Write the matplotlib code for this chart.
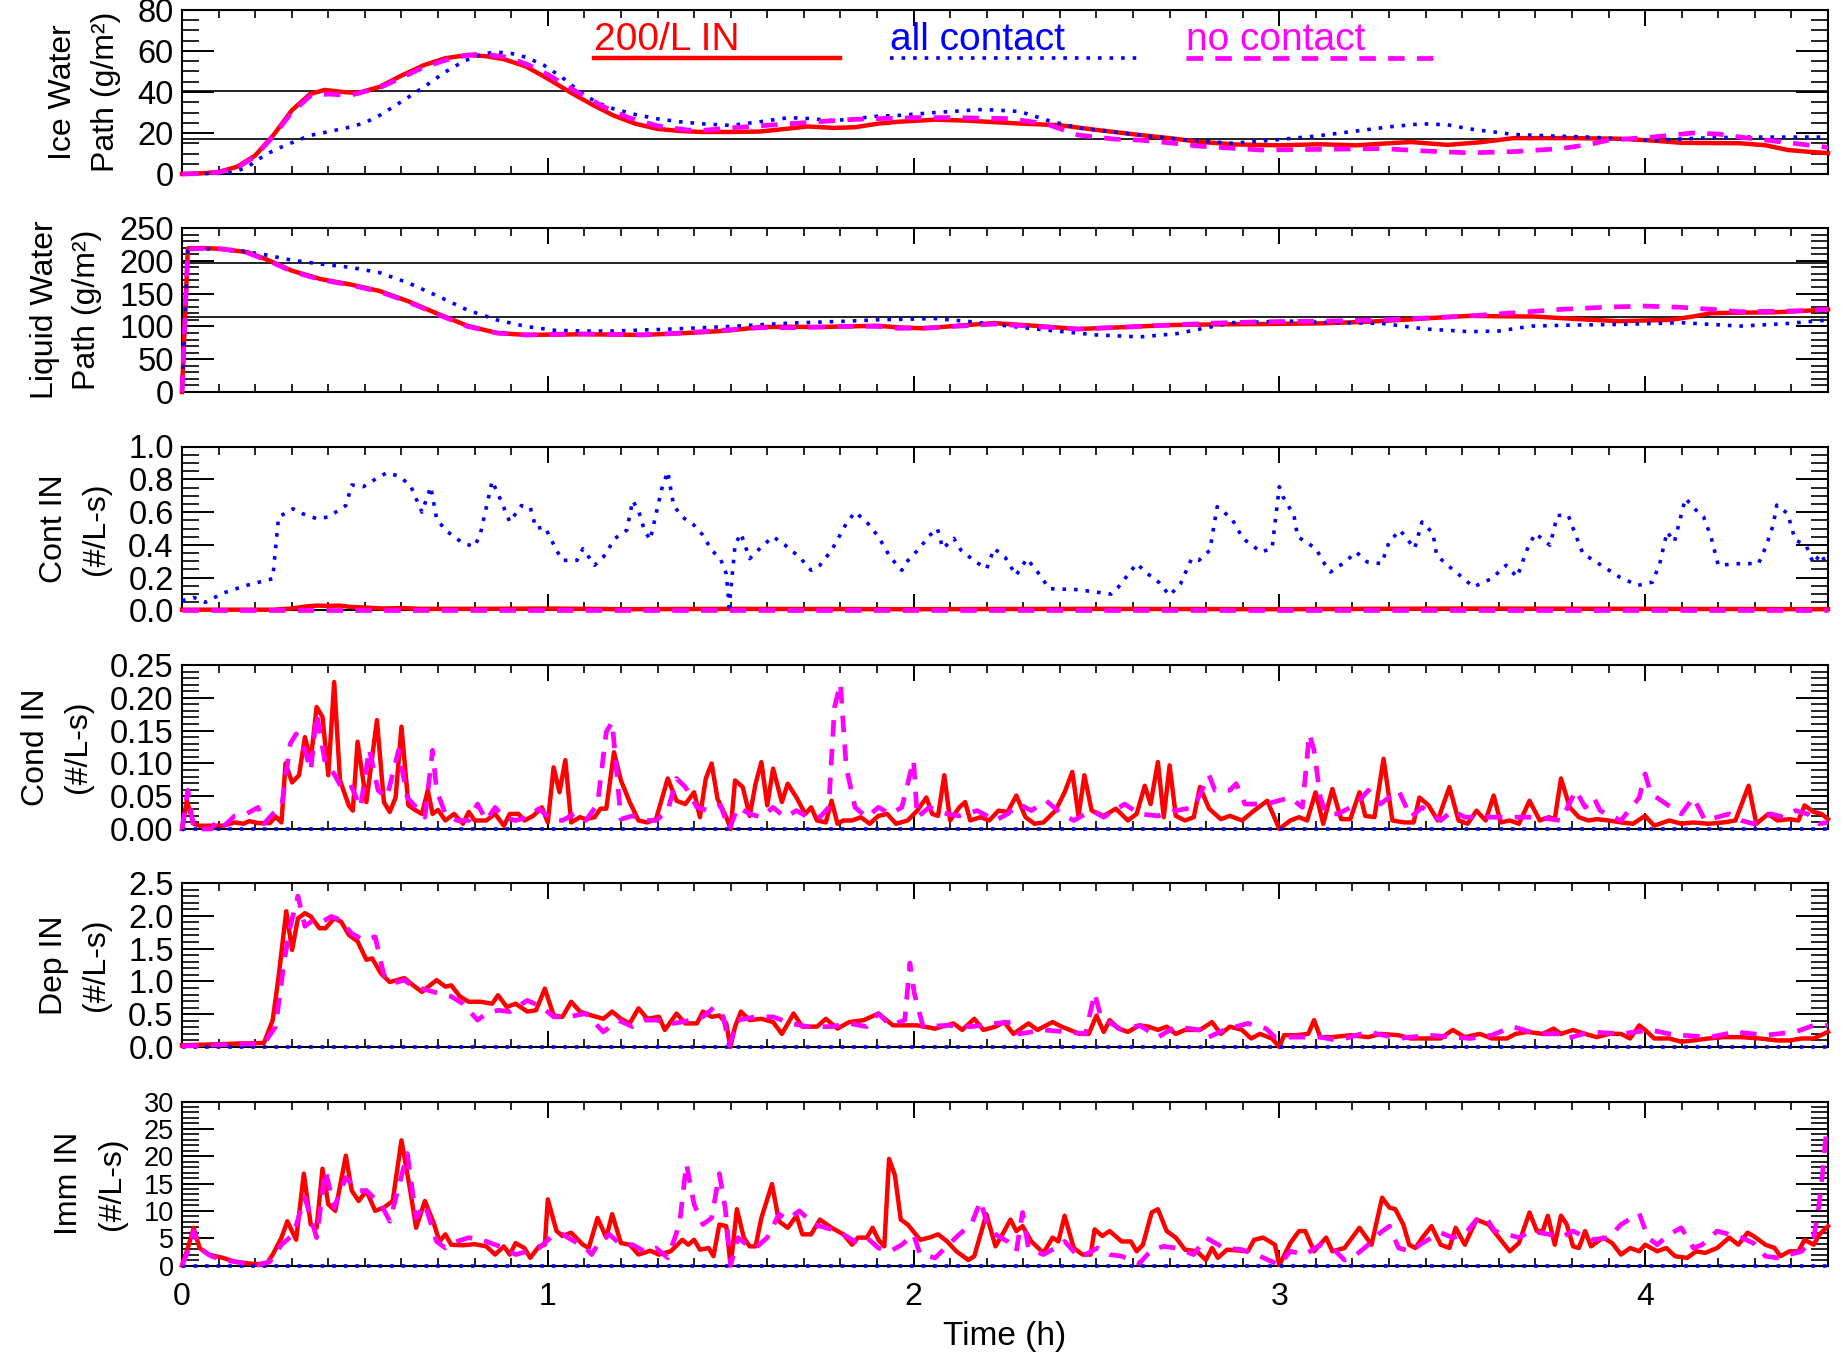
import matplotlib
matplotlib.use("Agg")
import matplotlib.pyplot as plt
from matplotlib.ticker import MultipleLocator, FormatStrFormatter

plt.rcParams['font.family'] = ['Liberation Sans', 'DejaVu Sans']

# ---------------- data ----------------
series_names = ["200/L IN", "all contact", "no contact"]

# Ice water path (g/m2)
iwp_red_t = [0, 0.05, 0.1, 0.15, 0.2, 0.25, 0.3, 0.35, 0.39, 0.44, 0.48, 0.54, 0.6, 0.66, 0.72, 0.78, 0.83, 0.88,
             0.94, 1.0, 1.06, 1.12, 1.18, 1.24, 1.3, 1.36, 1.42, 1.5, 1.58, 1.65, 1.71, 1.78, 1.84, 1.9, 1.96,
             2.06, 2.15, 2.29, 2.4, 2.5, 2.62, 2.7, 2.78, 2.88, 3.0, 3.11, 3.21, 3.3, 3.36, 3.46, 3.55, 3.64,
             3.8, 3.93, 4.02, 4.1, 4.26, 4.33, 4.39, 4.45, 4.5]
iwp_red = [0, 0.3, 1, 3.5, 9, 19, 31, 39, 41, 40, 39.5, 42.5, 48, 53, 56.5, 58, 57.5, 56, 52.5, 46.5, 40, 34, 28.5,
           24.5, 22, 21, 20.5, 20.5, 20.7, 22, 23.2, 22.5, 22.8, 24.5, 25.5, 26.5, 26, 24.6, 23.8, 21.5, 19,
           17.5, 15.7, 14.4, 14, 14.5, 14, 15, 15.6, 14.2, 15.5, 17.5, 17.5, 17.2, 16.3, 15.2, 15, 14, 11.7,
           10.8, 10.2]
iwp_blue_t = [0, 0.1, 0.14, 0.18, 0.21, 0.24, 0.27, 0.31, 0.35, 0.41, 0.46, 0.5, 0.54, 0.58, 0.62, 0.67, 0.72,
              0.77, 0.82, 0.86, 0.9, 0.94, 0.99, 1.04, 1.1, 1.14, 1.18, 1.24, 1.3, 1.36, 1.42, 1.5, 1.58, 1.66,
              1.72, 1.78, 1.84, 1.9, 1.96, 2.06, 2.19, 2.29, 2.37, 2.45, 2.62, 2.75, 2.87, 2.98, 3.1, 3.19, 3.3,
              3.39, 3.46, 3.52, 3.64, 3.75, 3.85, 3.95, 4.02, 4.15, 4.26, 4.4, 4.5]
iwp_blue = [0, 0.3, 0.8, 3.5, 7.3, 10.5, 13, 16, 18.8, 21, 22.9, 25, 28.6, 33, 37.6, 43.5, 49.8, 55, 58.5, 59.5,
            58.8, 57, 53, 47, 38.4, 34.5, 31.8, 29, 26.9, 25.5, 24.5, 23.7, 25.5, 27.5, 27, 26, 27, 28.2, 28.6,
            30, 31.5, 30.5, 26, 22.5, 19, 16.5, 15, 16.5, 18.5, 20.5, 23, 24.5, 24, 22, 19.3, 18.5, 18, 17, 16.4,
            17.5, 18, 18, 18]
iwp_mag_t = [0, 0.05, 0.1, 0.15, 0.2, 0.25, 0.3, 0.35, 0.4, 0.46, 0.54, 0.6, 0.66, 0.72, 0.78, 0.82, 0.89, 0.95,
             1.0, 1.08, 1.15, 1.22, 1.3, 1.38, 1.42, 1.5, 1.58, 1.66, 1.74, 1.82, 1.9, 2.01, 2.1, 2.26, 2.36,
             2.45, 2.55, 2.62, 2.7, 2.78, 2.95, 3.1, 3.28, 3.4, 3.52, 3.65, 3.77, 3.85, 3.9, 4.02, 4.13, 4.2,
             4.26, 4.38, 4.5]
iwp_mag = [0, 0.2, 0.8, 3, 8.5, 18.5, 30, 38, 39, 38.4, 42, 47, 52, 55.5, 58, 58.5, 57, 53, 48.5, 40, 33, 27.5,
           23.5, 21.5, 21.2, 22.5, 23.5, 24.5, 25.5, 26.5, 27, 27.5, 27.5, 27, 24.6, 19, 17, 16.5, 15.2, 13.6,
           11.7, 12, 12.4, 11.2, 10.3, 11, 12.4, 14.5, 16.5, 18, 20, 19.5, 18, 15.5, 13]
iwp_refs = [40.5, 17]

# Liquid water path (g/m2)
lwp_red_t = [0, 0.016, 0.06, 0.11, 0.18, 0.24, 0.3, 0.38, 0.46, 0.54, 0.62, 0.7, 0.78, 0.86, 0.94, 1.02, 1.1,
             1.18, 1.26, 1.34, 1.42, 1.5, 1.58, 1.66, 1.74, 1.82, 1.9, 1.96, 2.03, 2.12, 2.22, 2.33, 2.45, 2.58,
             2.7, 2.82, 2.95, 3.11, 3.24, 3.36, 3.45, 3.52, 3.6, 3.7, 3.82, 3.93, 4.07, 4.13, 4.18, 4.26, 4.35,
             4.43, 4.5]
lwp_red = [0, 219, 219.5, 218, 213, 200, 185, 172, 164, 154, 138, 119, 101, 90, 87, 87.5, 88, 87.5, 87, 89, 91,
           94, 99, 99.5, 99, 100, 101, 98.5, 97, 101, 105, 101, 96, 99, 102, 103, 103.6, 104.6, 107, 110.7, 114,
           116, 115.5, 115, 111, 108, 110, 115, 120, 121, 121.4, 123.5, 126]
lwp_blue_t = [0, 0.016, 0.08, 0.14, 0.22, 0.3, 0.38, 0.46, 0.54, 0.62, 0.7, 0.78, 0.86, 0.94, 1.02, 1.1, 1.18,
              1.26, 1.34, 1.42, 1.5, 1.58, 1.66, 1.74, 1.82, 1.9, 1.96, 2.06, 2.16, 2.3, 2.37, 2.5, 2.62, 2.72,
              2.82, 2.87, 3.03, 3.13, 3.28, 3.4, 3.52, 3.6, 3.69, 3.8, 3.93, 4.1, 4.26, 4.38, 4.5]
lwp_blue = [0, 218, 218, 217, 210, 201, 195, 190, 182, 166, 146, 125, 110, 100, 94, 93, 93, 94.5, 96, 98, 100,
            102.5, 105, 106.5, 108, 110, 110.7, 112, 107, 98, 94, 87, 84, 89, 100, 105.6, 108, 106, 104.6, 96,
            92, 93, 100.5, 102, 103, 105.6, 100.5, 104, 109.7]
lwp_mag_t = [0, 0.016, 0.06, 0.11, 0.18, 0.24, 0.3, 0.38, 0.46, 0.54, 0.62, 0.7, 0.78, 0.86, 0.94, 1.02, 1.1,
             1.18, 1.26, 1.34, 1.42, 1.5, 1.58, 1.66, 1.74, 1.82, 1.9, 1.96, 2.05, 2.22, 2.33, 2.45, 2.58, 2.7,
             2.82, 2.95, 3.11, 3.28, 3.45, 3.52, 3.65, 3.77, 3.9, 4.0, 4.1, 4.18, 4.26, 4.4, 4.5]
lwp_mag = [0, 218, 219, 218, 212, 199, 184, 171, 163, 153, 137, 118, 100, 90, 87, 88, 88.5, 88, 87, 89, 92, 95,
           98, 98, 99, 100, 100, 97, 98, 103.6, 100, 96, 99, 102, 105, 107, 108, 110, 114, 116, 121, 126, 129.5,
           131, 129, 126, 122.4, 123.5, 126]
lwp_refs = [196, 114]

# Contact IN rate (#/L-s)
cont_blue_t = [0, 0.032, 0.064, 0.112, 0.176, 0.248, 0.264, 0.304, 0.33, 0.368, 0.40, 0.448, 0.464, 0.496,
               0.528, 0.56, 0.592, 0.624, 0.656, 0.68, 0.696, 0.72, 0.768, 0.80, 0.816, 0.848, 0.872, 0.896,
               0.928, 0.952, 0.968, 0.992, 1.024, 1.04, 1.08, 1.096, 1.128, 1.152, 1.184, 1.216, 1.232, 1.248,
               1.264, 1.28, 1.296, 1.312, 1.328, 1.344, 1.368, 1.40, 1.424, 1.448, 1.472, 1.488, 1.496, 1.512,
               1.528, 1.552, 1.584, 1.616, 1.648, 1.688, 1.72, 1.744, 1.776, 1.816, 1.84, 1.872, 1.904, 1.936,
               1.968, 1.985, 2.02, 2.04, 2.065, 2.08, 2.11, 2.13, 2.17, 2.20, 2.22, 2.25, 2.28, 2.31, 2.35, 2.37,
               2.45, 2.54, 2.56, 2.61, 2.64, 2.67, 2.70, 2.73, 2.76, 2.78, 2.81, 2.83, 2.87, 2.90, 2.95, 2.98,
               3.0, 3.01, 3.04, 3.05, 3.10, 3.12, 3.14, 3.18, 3.21, 3.24, 3.28, 3.30, 3.33, 3.37, 3.39, 3.42,
               3.43, 3.46, 3.51, 3.53, 3.58, 3.62, 3.65, 3.68, 3.70, 3.74, 3.76, 3.79, 3.81, 3.83, 3.88, 3.93,
               3.98, 4.02, 4.04, 4.06, 4.08, 4.11, 4.14, 4.16, 4.18, 4.20, 4.26, 4.31, 4.33, 4.35, 4.36, 4.39,
               4.41, 4.44, 4.46, 4.48, 4.5]
cont_blue = [0.06, 0.08, 0.05, 0.106, 0.153, 0.194, 0.57, 0.62, 0.59, 0.56, 0.57, 0.64, 0.765, 0.755, 0.80,
             0.84, 0.82, 0.765, 0.60, 0.755, 0.56, 0.49, 0.41, 0.39, 0.47, 0.79, 0.67, 0.54, 0.64, 0.63, 0.50,
             0.51, 0.367, 0.306, 0.306, 0.377, 0.276, 0.326, 0.44, 0.49, 0.67, 0.61, 0.49, 0.43, 0.59, 0.745,
             0.847, 0.64, 0.57, 0.52, 0.46, 0.367, 0.316, 0.224, 0.02, 0.40, 0.47, 0.316, 0.388, 0.45, 0.40,
             0.326, 0.245, 0.276, 0.367, 0.53, 0.60, 0.54, 0.45, 0.326, 0.245, 0.306, 0.388, 0.45, 0.50, 0.378,
             0.44, 0.367, 0.296, 0.255, 0.378, 0.326, 0.214, 0.316, 0.204, 0.133, 0.127, 0.10, 0.143, 0.286,
             0.224, 0.173, 0.092, 0.163, 0.316, 0.306, 0.367, 0.633, 0.56, 0.44, 0.357, 0.378, 0.755, 0.694,
             0.58, 0.45, 0.378, 0.296, 0.235, 0.296, 0.357, 0.296, 0.286, 0.418, 0.49, 0.378, 0.54, 0.47, 0.337,
             0.276, 0.184, 0.143, 0.194, 0.276, 0.204, 0.388, 0.47, 0.398, 0.58, 0.58, 0.46, 0.347, 0.276,
             0.204, 0.153, 0.173, 0.286, 0.48, 0.418, 0.684, 0.61, 0.57, 0.45, 0.276, 0.286, 0.286, 0.388, 0.52,
             0.643, 0.59, 0.43, 0.398, 0.286, 0.347, 0.265]
cont_red_t = [0, 0.25, 0.3, 0.34, 0.37, 0.4, 0.43, 0.46, 0.5, 0.55, 0.6, 0.65, 0.8, 1.0, 1.2, 1.5, 2.0, 2.5, 3.0,
              3.5, 4.0, 4.5]
cont_red = [0.005, 0.005, 0.012, 0.025, 0.03, 0.028, 0.03, 0.022, 0.018, 0.012, 0.015, 0.01, 0.01, 0.012, 0.008,
            0.01, 0.008, 0.01, 0.008, 0.012, 0.01, 0.008]
cont_mag_t = [0, 4.5]
cont_mag = [0, 0]

# Condensation IN rate (#/L-s)
cond_red_t = [0, 0.013, 0.032, 0.048, 0.112, 0.144, 0.168, 0.184, 0.208, 0.24, 0.256, 0.272, 0.283, 0.301, 0.32,
              0.336, 0.352, 0.368, 0.384, 0.40, 0.416, 0.432, 0.456, 0.467, 0.48, 0.504, 0.533, 0.552, 0.568,
              0.584, 0.60, 0.619, 0.64, 0.656, 0.672, 0.685, 0.70, 0.72, 0.744, 0.768, 0.784, 0.80, 0.832, 0.856,
              0.88, 0.896, 0.92, 0.936, 0.96, 0.984, 1.0, 1.016, 1.032, 1.048, 1.064, 1.088, 1.104, 1.128, 1.144,
              1.16, 1.181, 1.20, 1.224, 1.248, 1.272, 1.296, 1.328, 1.352, 1.376, 1.40, 1.416, 1.432, 1.448,
              1.464, 1.488, 1.50, 1.512, 1.533, 1.552, 1.568, 1.584, 1.60, 1.616, 1.64, 1.656, 1.68, 1.704, 1.72,
              1.736, 1.76, 1.776, 1.792, 1.808, 1.832, 1.856, 1.88, 1.904, 1.928, 1.952, 1.984, 2.01, 2.035,
              2.051, 2.067, 2.084, 2.10, 2.125, 2.141, 2.155, 2.183, 2.207, 2.232, 2.257, 2.281, 2.306, 2.331,
              2.355, 2.388, 2.413, 2.434, 2.451, 2.467, 2.487, 2.52, 2.553, 2.586, 2.61, 2.632, 2.648, 2.668,
              2.684, 2.70, 2.717, 2.742, 2.766, 2.783, 2.808, 2.84, 2.865, 2.898, 2.931, 2.967, 3.0, 3.03, 3.054,
              3.076, 3.099, 3.12, 3.145, 3.169, 3.194, 3.219, 3.235, 3.26, 3.285, 3.309, 3.342, 3.367, 3.383,
              3.408, 3.433, 3.465, 3.49, 3.515, 3.539, 3.564, 3.586, 3.605, 3.63, 3.655, 3.684, 3.712, 3.737,
              3.753, 3.77, 3.794, 3.819, 3.844, 3.868, 3.901, 3.934, 3.967, 4.0, 4.025, 4.066, 4.099, 4.132,
              4.173, 4.214, 4.247, 4.283, 4.304, 4.337, 4.362, 4.395, 4.419, 4.436, 4.461, 4.482, 4.5]
cond_red = [0, 0.043, 0.008, 0.005, 0.005, 0.010, 0.008, 0.012, 0.009, 0.009, 0.019, 0.010, 0.100, 0.071, 0.082,
            0.140, 0.105, 0.186, 0.171, 0.082, 0.224, 0.074, 0.036, 0.028, 0.133, 0.041, 0.166, 0.041, 0.026,
            0.048, 0.156, 0.036, 0.028, 0.023, 0.059, 0.023, 0.029, 0.013, 0.023, 0.008, 0.026, 0.013, 0.013,
            0.023, 0.005, 0.023, 0.023, 0.013, 0.020, 0.033, 0.010, 0.094, 0.056, 0.105, 0.010, 0.018, 0.015,
            0.018, 0.031, 0.031, 0.117, 0.074, 0.041, 0.013, 0.010, 0.015, 0.077, 0.043, 0.038, 0.056, 0.018,
            0.077, 0.100, 0.046, 0.018, 0.0, 0.074, 0.064, 0.020, 0.069, 0.102, 0.036, 0.092, 0.041, 0.069,
            0.048, 0.023, 0.033, 0.013, 0.010, 0.043, 0.008, 0.013, 0.013, 0.018, 0.008, 0.020, 0.023, 0.008,
            0.013, 0.028, 0.048, 0.023, 0.020, 0.082, 0.013, 0.033, 0.041, 0.013, 0.018, 0.013, 0.028, 0.026,
            0.051, 0.018, 0.008, 0.010, 0.028, 0.056, 0.087, 0.020, 0.082, 0.028, 0.020, 0.031, 0.013, 0.023,
            0.066, 0.038, 0.102, 0.018, 0.097, 0.020, 0.013, 0.018, 0.064, 0.031, 0.015, 0.020, 0.013, 0.028,
            0.043, 0.0, 0.013, 0.018, 0.013, 0.056, 0.008, 0.061, 0.015, 0.015, 0.056, 0.020, 0.018, 0.107,
            0.013, 0.010, 0.010, 0.048, 0.036, 0.013, 0.064, 0.013, 0.008, 0.028, 0.013, 0.051, 0.010, 0.013,
            0.008, 0.043, 0.013, 0.018, 0.015, 0.077, 0.033, 0.018, 0.013, 0.015, 0.013, 0.010, 0.008, 0.020,
            0.005, 0.013, 0.008, 0.010, 0.008, 0.010, 0.013, 0.066, 0.008, 0.023, 0.013, 0.015, 0.013, 0.036,
            0.026, 0.023, 0.015]
cond_mag_t = [0, 0.016, 0.032, 0.08, 0.096, 0.112, 0.144, 0.176, 0.208, 0.224, 0.248, 0.272, 0.296, 0.312, 0.336,
              0.352, 0.368, 0.392, 0.416, 0.44, 0.464, 0.488, 0.512, 0.536, 0.56, 0.592, 0.616, 0.64, 0.664,
              0.685, 0.696, 0.72, 0.752, 0.784, 0.808, 0.832, 0.856, 0.88, 0.912, 0.944, 0.976, 1.008, 1.04,
              1.072, 1.104, 1.136, 1.16, 1.176, 1.20, 1.232, 1.264, 1.296, 1.328, 1.352, 1.376, 1.408, 1.44,
              1.472, 1.496, 1.52, 1.552, 1.584, 1.616, 1.648, 1.68, 1.712, 1.744, 1.768, 1.784, 1.80, 1.816,
              1.84, 1.872, 1.904, 1.936, 1.968, 2.0, 2.01, 2.043, 2.092, 2.125, 2.174, 2.224, 2.257, 2.289, 2.322,
              2.363, 2.405, 2.438, 2.487, 2.52, 2.577, 2.618, 2.668, 2.717, 2.766, 2.808, 2.824, 2.865, 2.882,
              2.906, 2.939, 2.964, 3.03, 3.063, 3.082, 3.095, 3.112, 3.128, 3.161, 3.211, 3.243, 3.276, 3.326,
              3.359, 3.391, 3.441, 3.474, 3.507, 3.572, 3.638, 3.704, 3.77, 3.811, 3.836, 3.86, 3.877, 3.934,
              3.984, 4.0, 4.016, 4.058, 4.099, 4.132, 4.164, 4.23, 4.263, 4.296, 4.345, 4.378, 4.411, 4.444,
              4.477, 4.5]
cond_mag = [0, 0.059, 0, 0, 0.013, 0.003, 0.020, 0.023, 0.033, 0.008, 0.023, 0.033, 0.130, 0.145, 0.120, 0.089,
            0.176, 0.099, 0.084, 0.059, 0.064, 0.033, 0.122, 0.059, 0.048, 0.120, 0.048, 0.033, 0.018, 0.120,
            0.059, 0.023, 0.013, 0.013, 0.038, 0.013, 0.033, 0.018, 0.013, 0.018, 0.031, 0.015, 0.013, 0.023,
            0.013, 0.038, 0.148, 0.163, 0.015, 0.020, 0.013, 0.013, 0.028, 0.077, 0.064, 0.033, 0.028, 0.036, 0,
            0.033, 0.023, 0.018, 0.033, 0.018, 0.028, 0.018, 0.018, 0.033, 0.186, 0.222, 0.094, 0.033, 0.018,
            0.033, 0.023, 0.033, 0.105, 0.018, 0.033, 0.023, 0.020, 0.028, 0.013, 0.023, 0.038, 0.028, 0.043,
            0.023, 0.013, 0.028, 0.018, 0.038, 0.023, 0.020, 0.028, 0.033, 0.082, 0.059, 0.059, 0.069, 0.038,
            0.038, 0.038, 0.048, 0.033, 0.145, 0.120, 0.048, 0.023, 0.023, 0.038, 0.059, 0.038, 0.059, 0.018,
            0.033, 0.013, 0.028, 0.018, 0.018, 0.018, 0.018, 0.013, 0.059, 0.033, 0.048, 0.028, 0.013, 0.048,
            0.084, 0.054, 0.038, 0.023, 0.048, 0.013, 0.023, 0.013, 0.008, 0.023, 0.018, 0.028, 0.023, 0.008,
            0.010]

# Deposition IN rate (#/L-s)
dep_red_t = [0, 0.064, 0.144, 0.224, 0.248, 0.264, 0.285, 0.301, 0.317, 0.336, 0.352, 0.376, 0.392, 0.416, 0.435,
             0.456, 0.48, 0.504, 0.52, 0.544, 0.568, 0.608, 0.632, 0.656, 0.696, 0.72, 0.736, 0.76, 0.784, 0.816,
             0.848, 0.864, 0.888, 0.912, 0.944, 0.968, 0.992, 1.016, 1.04, 1.064, 1.088, 1.12, 1.152, 1.176,
             1.20, 1.224, 1.248, 1.272, 1.304, 1.32, 1.352, 1.376, 1.408, 1.424, 1.448, 1.469, 1.488, 1.499,
             1.512, 1.528, 1.552, 1.584, 1.616, 1.64, 1.672, 1.696, 1.736, 1.76, 1.792, 1.824, 1.864, 1.904,
             1.944, 1.984, 2.01, 2.059, 2.109, 2.133, 2.166, 2.191, 2.224, 2.248, 2.273, 2.314, 2.339, 2.38,
             2.405, 2.454, 2.479, 2.5, 2.52, 2.536, 2.561, 2.586, 2.618, 2.643, 2.668, 2.692, 2.717, 2.742,
             2.783, 2.816, 2.84, 2.865, 2.898, 2.923, 2.947, 2.98, 3.0, 3.013, 3.046, 3.079, 3.095, 3.112, 3.145,
             3.194, 3.243, 3.276, 3.326, 3.359, 3.408, 3.441, 3.474, 3.507, 3.548, 3.581, 3.622, 3.646, 3.679,
             3.72, 3.75, 3.77, 3.803, 3.836, 3.868, 3.901, 3.934, 3.959, 3.984, 4.0, 4.025, 4.066, 4.099, 4.132,
             4.173, 4.214, 4.263, 4.313, 4.362, 4.395, 4.428, 4.461, 4.5]
dep_red = [0.026, 0.036, 0.051, 0.061, 0.41, 1.07, 2.07, 1.48, 1.96, 2.04, 1.99, 1.81, 1.81, 1.96, 1.91, 1.71,
           1.61, 1.33, 1.35, 1.12, 0.99, 1.05, 0.94, 0.84, 1.02, 0.92, 0.94, 0.77, 0.69, 0.69, 0.66, 0.79, 0.61,
           0.66, 0.54, 0.56, 0.89, 0.48, 0.46, 0.69, 0.54, 0.48, 0.43, 0.54, 0.43, 0.36, 0.59, 0.43, 0.46, 0.26,
           0.51, 0.36, 0.36, 0.54, 0.46, 0.48, 0.36, 0.0, 0.31, 0.54, 0.41, 0.43, 0.38, 0.20, 0.51, 0.31, 0.31,
           0.43, 0.28, 0.38, 0.41, 0.51, 0.33, 0.33, 0.33, 0.28, 0.36, 0.26, 0.43, 0.26, 0.31, 0.38, 0.20, 0.36,
           0.26, 0.38, 0.31, 0.20, 0.20, 0.48, 0.23, 0.41, 0.28, 0.23, 0.33, 0.31, 0.26, 0.31, 0.20, 0.26, 0.26,
           0.38, 0.20, 0.31, 0.26, 0.13, 0.20, 0.13, 0.0, 0.18, 0.18, 0.20, 0.41, 0.15, 0.15, 0.18, 0.15, 0.20,
           0.18, 0.13, 0.13, 0.13, 0.26, 0.15, 0.20, 0.13, 0.13, 0.20, 0.23, 0.20, 0.28, 0.20, 0.26, 0.20, 0.15,
           0.20, 0.20, 0.13, 0.33, 0.26, 0.13, 0.13, 0.08, 0.10, 0.13, 0.15, 0.15, 0.13, 0.10, 0.10, 0.13, 0.13,
           0.23]
dep_mag_t = [0, 0.144, 0.224, 0.256, 0.28, 0.296, 0.317, 0.336, 0.36, 0.384, 0.408, 0.432, 0.464, 0.496, 0.528,
             0.552, 0.576, 0.608, 0.632, 0.656, 0.688, 0.736, 0.768, 0.808, 0.832, 0.864, 0.896, 0.944, 0.984,
             1.016, 1.056, 1.104, 1.152, 1.192, 1.232, 1.264, 1.296, 1.344, 1.392, 1.424, 1.456, 1.48, 1.496,
             1.52, 1.568, 1.616, 1.664, 1.712, 1.776, 1.824, 1.872, 1.904, 1.936, 1.976, 1.99, 2.002, 2.026,
             2.092, 2.158, 2.224, 2.266, 2.289, 2.355, 2.421, 2.47, 2.495, 2.512, 2.569, 2.618, 2.668, 2.717,
             2.783, 2.799, 2.849, 2.914, 2.964, 2.988, 3.03, 3.079, 3.112, 3.161, 3.243, 3.326, 3.408, 3.474,
             3.523, 3.581, 3.638, 3.704, 3.77, 3.786, 3.852, 3.934, 4.016, 4.066, 4.099, 4.178, 4.247, 4.329,
             4.411, 4.461, 4.5]
dep_mag = [0.015, 0.04, 0.05, 0.31, 1.33, 1.84, 2.30, 1.84, 1.94, 1.91, 1.99, 1.94, 1.73, 1.63, 1.68, 1.10, 0.97,
           1.02, 0.92, 0.89, 0.84, 0.77, 0.66, 0.41, 0.51, 0.56, 0.54, 0.71, 0.61, 0.46, 0.46, 0.51, 0.23, 0.41,
           0.31, 0.41, 0.41, 0.36, 0.41, 0.46, 0.61, 0.46, 0.03, 0.41, 0.46, 0.46, 0.36, 0.31, 0.31, 0.36, 0.31,
           0.51, 0.33, 0.41, 1.28, 0.82, 0.31, 0.33, 0.31, 0.36, 0.38, 0.20, 0.26, 0.23, 0.20, 0.82, 0.46, 0.26,
           0.33, 0.15, 0.31, 0.26, 0.13, 0.26, 0.36, 0.28, 0.15, 0.15, 0.15, 0.15, 0.10, 0.23, 0.13, 0.18, 0.15,
           0.13, 0.18, 0.31, 0.20, 0.20, 0.13, 0.23, 0.20, 0.26, 0.20, 0.18, 0.15, 0.23, 0.18, 0.23, 0.33, 0.33]

# Immersion IN rate (#/L-s)
imm_red_t = [0, 0.016, 0.032, 0.048, 0.072, 0.112, 0.144, 0.176, 0.208, 0.232, 0.248, 0.272, 0.288, 0.312, 0.333,
             0.352, 0.368, 0.384, 0.40, 0.419, 0.448, 0.464, 0.483, 0.504, 0.528, 0.552, 0.576, 0.60, 0.624,
             0.64, 0.664, 0.688, 0.704, 0.72, 0.736, 0.768, 0.80, 0.832, 0.856, 0.88, 0.896, 0.912, 0.936, 0.952,
             0.976, 0.992, 1.0, 1.024, 1.04, 1.064, 1.096, 1.112, 1.136, 1.16, 1.176, 1.20, 1.224, 1.248, 1.28,
             1.304, 1.336, 1.368, 1.384, 1.40, 1.416, 1.44, 1.453, 1.469, 1.488, 1.50, 1.517, 1.536, 1.552,
             1.568, 1.584, 1.613, 1.632, 1.656, 1.68, 1.696, 1.72, 1.744, 1.776, 1.808, 1.832, 1.848, 1.872,
             1.888, 1.904, 1.92, 1.933, 1.949, 1.965, 1.984, 2.018, 2.043, 2.067, 2.092, 2.117, 2.15, 2.166,
             2.199, 2.224, 2.248, 2.265, 2.281, 2.298, 2.322, 2.355, 2.38, 2.396, 2.413, 2.438, 2.462, 2.484,
             2.495, 2.516, 2.536, 2.569, 2.594, 2.61, 2.627, 2.651, 2.668, 2.692, 2.717, 2.742, 2.775, 2.799,
             2.816, 2.832, 2.857, 2.914, 2.931, 2.956, 2.988, 3.0, 3.03, 3.054, 3.071, 3.095, 3.128, 3.145,
             3.178, 3.219, 3.252, 3.281, 3.301, 3.317, 3.339, 3.355, 3.372, 3.391, 3.416, 3.441, 3.465, 3.482,
             3.507, 3.539, 3.572, 3.605, 3.63, 3.655, 3.684, 3.704, 3.72, 3.734, 3.753, 3.77, 3.786, 3.803,
             3.819, 3.836, 3.852, 3.885, 3.91, 3.934, 3.959, 3.984, 4.0, 4.033, 4.058, 4.082, 4.115, 4.14, 4.164,
             4.197, 4.23, 4.255, 4.28, 4.296, 4.329, 4.354, 4.37, 4.395, 4.419, 4.436, 4.461, 4.477, 4.5]
imm_red = [0, 3.2, 6.9, 3.2, 2.0, 1.4, 0.7, 0.4, 0.25, 0.4, 2.0, 5.1, 8.1, 4.7, 16.8, 7.5, 6.9, 17.7, 11.2, 10.0,
           20.1, 13.7, 11.8, 13.7, 10.0, 10.6, 11.8, 22.9, 13.7, 6.9, 11.8, 7.8, 4.4, 5.7, 3.8, 3.7, 3.9, 3.5,
           2.0, 3.5, 2.0, 4.1, 3.2, 1.4, 3.5, 3.8, 12.1, 6.3, 5.4, 6.0, 3.8, 3.2, 8.7, 5.1, 9.4, 4.1, 3.8, 2.0,
           2.7, 2.0, 2.6, 4.7, 3.8, 4.7, 2.9, 3.2, 1.7, 7.5, 7.2, 0, 10.3, 5.1, 3.5, 3.5, 8.7, 14.9, 8.1, 6.9,
           9.1, 5.7, 5.7, 8.4, 6.9, 5.7, 3.8, 5.1, 5.1, 6.9, 4.7, 3.5, 19.5, 16.5, 8.4, 7.5, 4.7, 5.1, 5.7, 4.4,
           2.6, 1.0, 1.7, 9.4, 3.5, 6.3, 8.4, 6.3, 7.2, 4.4, 2.3, 5.1, 4.4, 9.1, 3.2, 2.0, 2.0, 6.6, 5.4, 6.3,
           4.4, 4.4, 2.6, 3.8, 9.7, 10.3, 6.3, 5.1, 2.9, 2.6, 1.0, 3.2, 1.4, 2.9, 2.6, 4.7, 5.1, 3.8, 0.1, 4.1,
           6.3, 6.3, 2.6, 5.1, 2.6, 3.2, 6.9, 3.8, 12.4, 10.6, 10.3, 7.5, 3.8, 3.2, 5.1, 7.2, 3.8, 3.2, 6.9, 3.8,
           8.4, 7.5, 4.7, 2.6, 4.1, 9.7, 6.3, 6.3, 9.1, 3.8, 9.1, 7.5, 3.5, 3.2, 6.3, 3.5, 5.1, 4.1, 2.0, 3.2,
           2.6, 3.8, 2.6, 3.2, 1.7, 1.4, 2.6, 2.3, 3.2, 5.1, 3.8, 6.0, 5.4, 3.8, 3.2, 1.7, 2.6, 2.6, 4.7, 3.8,
           5.7, 7.2]
imm_mag_t = [0, 0.016, 0.032, 0.048, 0.08, 0.112, 0.176, 0.208, 0.24, 0.272, 0.304, 0.336, 0.368, 0.392, 0.416,
             0.448, 0.48, 0.504, 0.544, 0.568, 0.592, 0.616, 0.64, 0.664, 0.696, 0.72, 0.752, 0.784, 0.832, 0.88,
             0.912, 0.944, 0.976, 1.008, 1.04, 1.104, 1.12, 1.136, 1.168, 1.20, 1.232, 1.264, 1.296, 1.328, 1.36,
             1.379, 1.40, 1.424, 1.448, 1.469, 1.485, 1.50, 1.52, 1.544, 1.568, 1.60, 1.632, 1.656, 1.688, 1.728,
             1.76, 1.792, 1.84, 1.872, 1.904, 1.936, 1.968, 2.0, 2.018, 2.059, 2.125, 2.158, 2.183, 2.199, 2.224,
             2.257, 2.281, 2.298, 2.314, 2.355, 2.388, 2.413, 2.454, 2.503, 2.536, 2.569, 2.618, 2.651, 2.684,
             2.717, 2.766, 2.799, 2.849, 2.898, 2.947, 3.0, 3.03, 3.071, 3.112, 3.145, 3.178, 3.211, 3.243, 3.276,
             3.301, 3.326, 3.359, 3.391, 3.441, 3.474, 3.507, 3.539, 3.564, 3.589, 3.622, 3.655, 3.688, 3.737,
             3.77, 3.803, 3.852, 3.901, 3.934, 3.984, 4.008, 4.033, 4.066, 4.099, 4.132, 4.156, 4.197, 4.23,
             4.263, 4.296, 4.329, 4.362, 4.395, 4.428, 4.461, 4.474, 4.485, 4.493, 4.5]
imm_mag = [0, 2.6, 6.3, 3.2, 1.7, 1.0, 0.4, 0.1, 0.7, 3.8, 5.7, 12.4, 5.1, 17.4, 10.6, 16.1, 13.7, 13.7, 11.2, 8.1,
           14.3, 20.5, 8.7, 11.2, 4.4, 3.2, 4.4, 5.1, 4.4, 3.2, 2.0, 2.6, 3.2, 5.1, 5.7, 3.2, 2.0, 3.8, 5.7, 3.8,
           3.8, 2.6, 3.2, 1.4, 7.5, 18.6, 11.2, 7.5, 8.7, 16.8, 10.6, 0.1, 5.1, 3.8, 3.2, 5.1, 9.4, 8.4, 10.0,
           7.5, 6.9, 6.3, 4.4, 5.1, 3.2, 2.6, 3.8, 5.7, 2.0, 1.4, 5.7, 7.5, 11.8, 8.1, 5.7, 4.4, 2.6, 9.7, 3.2,
           2.0, 3.2, 4.4, 1.4, 3.2, 2.0, 1.7, 0.4, 2.9, 3.5, 3.2, 2.0, 5.1, 3.2, 2.9, 1.7, 0.1, 2.6, 2.0, 3.8,
           3.2, 1.0, 2.0, 3.8, 6.0, 7.2, 3.2, 2.6, 4.1, 6.0, 5.1, 5.7, 8.4, 8.9, 6.3, 5.7, 5.1, 6.3, 5.7, 5.1,
           6.3, 4.7, 5.1, 7.5, 9.5, 5.1, 3.8, 5.7, 6.9, 3.2, 3.8, 6.3, 5.7, 5.1, 4.1, 1.7, 1.4, 2.0, 2.6, 5.1,
           10.3, 16.8, 22.9, 25.7]

# "all contact" produces no condensation / deposition / immersion IN
zero_t = [0, 4.5]
zero_v = [0, 0]

panel_labels = ["Ice Water\nPath (g/m²)", "Liquid Water\nPath (g/m²)", "Cont IN\n(#/L-s)",
                "Cond IN\n(#/L-s)", "Dep IN\n(#/L-s)", "Imm IN\n(#/L-s)"]
y_limits = [(0, 80), (0, 250), (0, 1.0), (0, 0.25), (0, 2.5), (0, 30)]
y_major = [20, 50, 0.2, 0.05, 0.5, 5]
y_minor = [5, 10, 0.05, 0.01, 0.1, 1]
y_fmt = ["%d", "%d", "%.1f", "%.2f", "%.1f", "%d"]
y_labelsize = [23.5, 23.5, 23.5, 23.5, 23.5, 19.5]
x_ticks = [0, 1, 2, 3, 4]

RED = "#ff0000"
BLUE = "#0000ff"
MAG = "#ff00ff"

red_kw = dict(color=RED, lw=3.2, clip_on=False, solid_joinstyle="round")
blue_kw = dict(color=BLUE, lw=2.6, ls=(0, (1.0, 2.2)), clip_on=False)
mag_kw = dict(color=MAG, lw=3.4, ls=(0, (3.5, 2.6)), clip_on=False)

panels = [
    (iwp_red_t, iwp_red, iwp_blue_t, iwp_blue, iwp_mag_t, iwp_mag),
    (lwp_red_t, lwp_red, lwp_blue_t, lwp_blue, lwp_mag_t, lwp_mag),
    (cont_red_t, cont_red, cont_blue_t, cont_blue, cont_mag_t, cont_mag),
    (cond_red_t, cond_red, zero_t, zero_v, cond_mag_t, cond_mag),
    (dep_red_t, dep_red, zero_t, zero_v, dep_mag_t, dep_mag),
    (imm_red_t, imm_red, zero_t, zero_v, imm_mag_t, imm_mag),
]
ref_lines = {0: iwp_refs, 1: lwp_refs}

# ---------------- figure ----------------
W, H = 1843, 1352
fig = plt.figure(figsize=(W / 100, H / 100), dpi=100)

left_px, width_px, height_px = 182, 1646, 164
tops_px = [10, 228, 446.5, 665, 883, 1101.5]

axes = []
for i, top in enumerate(tops_px):
    ax = fig.add_axes([left_px / W, 1 - (top + height_px) / H, width_px / W, height_px / H])
    axes.append(ax)
    rt, rv, bt, bv, mt, mv = panels[i]

    for yref in ref_lines.get(i, []):
        ax.axhline(yref, color="#222222", lw=1.4, zorder=1)

    ax.plot(rt, rv, zorder=3, **red_kw)
    ax.plot(bt, bv, zorder=4, **blue_kw)
    ax.plot(mt, mv, zorder=5, **mag_kw)

    ax.set_xlim(0, 4.5)
    ax.set_ylim(*y_limits[i])
    ax.set_xticks(x_ticks)
    ax.xaxis.set_minor_locator(MultipleLocator(0.1))
    ax.yaxis.set_major_locator(MultipleLocator(y_major[i]))
    ax.yaxis.set_minor_locator(MultipleLocator(y_minor[i]))
    ax.yaxis.set_major_formatter(FormatStrFormatter(y_fmt[i]))

    ax.tick_params(axis="x", which="major", direction="in", length=11.5, width=1.4,
                   top=True, bottom=True, labelsize=23, pad=12)
    ax.tick_params(axis="x", which="minor", direction="in", length=5.8, width=1.2, top=True, bottom=True)
    ax.tick_params(axis="y", which="major", direction="in", length=23, width=1.4,
                   left=True, right=True, labelsize=y_labelsize[i], pad=6)
    ax.tick_params(axis="y", which="minor", direction="in", length=12, width=1.2, left=True, right=True)
    for sp in ax.spines.values():
        sp.set_linewidth(1.5)

    ax.set_ylabel(panel_labels[i], fontsize=23, labelpad=12, linespacing=1.55)
    if i < len(tops_px) - 1:
        ax.tick_params(axis="x", labelbottom=False)

axes[-1].set_xlabel("Time (h)", fontsize=24, labelpad=6)

# legend drawn as text above short line samples, like the original
ax0 = axes[0]
leg_x = [0.25, 0.43, 0.61]
leg_len = 0.15
leg_styles = [red_kw, blue_kw, mag_kw]
leg_colors = [RED, BLUE, MAG]
for name, x0, st, c in zip(series_names, leg_x, leg_styles, leg_colors):
    ax0.text(x0, 0.755, name, color=c, fontsize=28, transform=ax0.transAxes, ha="left", va="baseline")
    ax0.plot([x0, x0 + leg_len], [0.71, 0.71], transform=ax0.transAxes, **st)

fig.savefig("out.png", dpi=100)
